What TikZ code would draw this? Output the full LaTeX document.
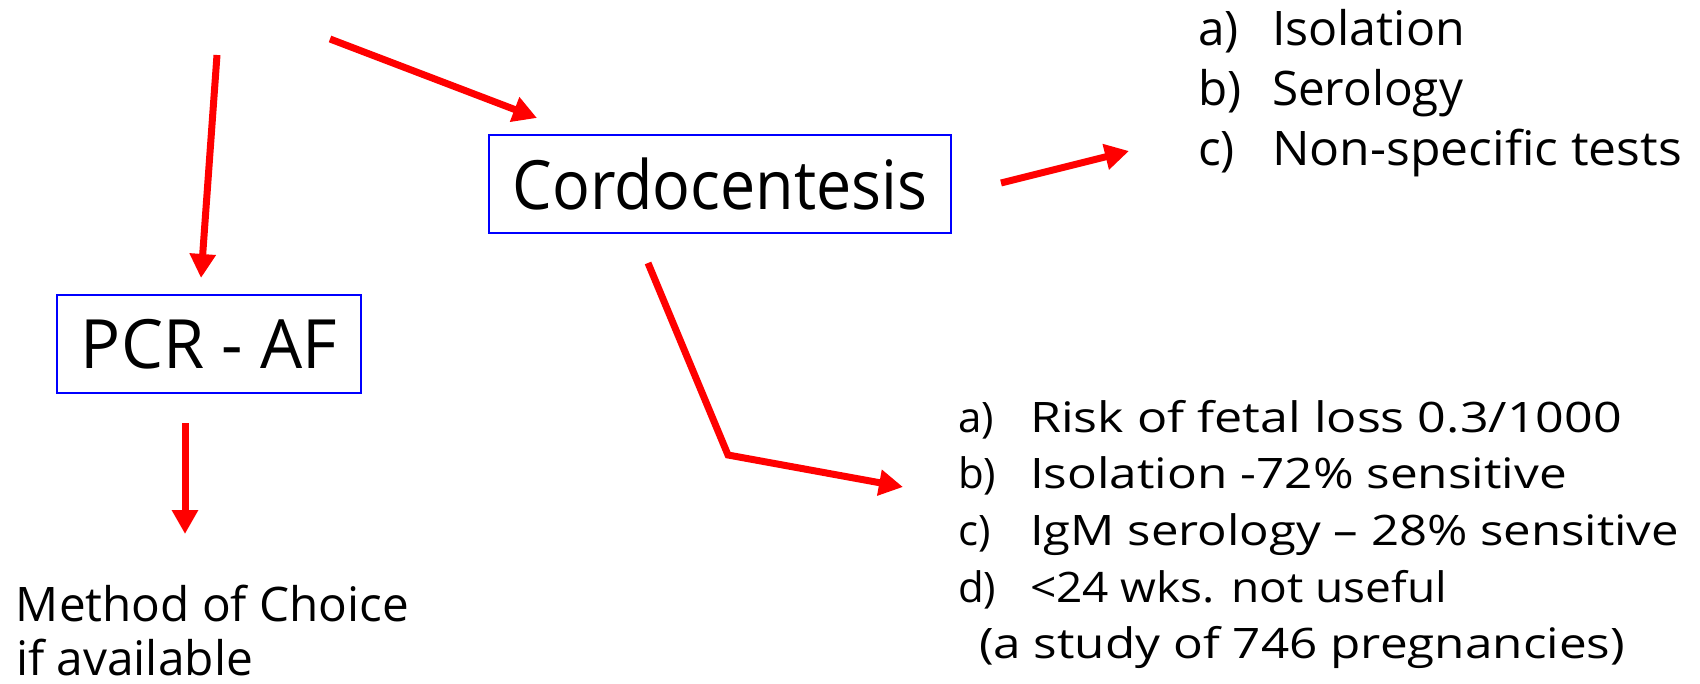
\documentclass[tikz,border=0pt]{standalone}
\usepackage{fontspec}
\setmainfont{Open Sans}
\usetikzlibrary{arrows.meta}
\newcommand\fitw[2]{\resizebox{#1}{\height}{#2}}
\definecolor{arrowred}{RGB}{255,0,0}
\definecolor{boxblue}{RGB}{0,0,255}
\begin{document}
\begin{tikzpicture}[x=1pt,y=-1pt,
  redarrow/.style={draw=arrowred, line width=7pt, line join=miter,
    -{Triangle[length=24pt,width=25pt]}},
  bluebox/.style={draw=boxblue, line width=2.2pt, inner sep=0pt, outer sep=0pt},
  txt/.style={inner sep=0pt, outer sep=0pt, anchor=base west},
  bigfont/.style={font=\fontsize{68}{80}\selectfont},
  topfont/.style={font=\fontsize{47.6}{58}\selectfont},
  botfont/.style={font=\fontsize{42}{52}\selectfont},
]
\useasboundingbox (0,0) rectangle (1700,684);

% boxes
\node[bluebox, bigfont, minimum width=462pt, minimum height=98pt] (cordo) at (720,184) {\fitw{415pt}{Cordocentesis}};
\node[bluebox, bigfont, minimum width=304pt, minimum height=98pt] (pcr) at (209,344) {\fitw{256pt}{PCR - AF}};

% method text
\node[txt, topfont] (meth1) at (16,621) {\fitw{393pt}{Method of Choice}};
\node[txt, topfont] (meth2) at (16,675) {\fitw{237pt}{if available}};

% top right list
\node[txt, topfont] (ta) at (1198,46) {a)};
\node[txt, topfont] (tat) at (1272,46) {\fitw{193pt}{Isolation}};
\node[txt, topfont] (tb) at (1198,106) {b)};
\node[txt, topfont] (tbt) at (1272,106) {\fitw{191pt}{Serology}};
\node[txt, topfont] (tc) at (1198,166) {c)};
\node[txt, topfont] (tct) at (1272,166) {\fitw{410pt}{Non-specific tests}};

% bottom right list
\node[txt, botfont] (ba) at (958,432) {a)};
\node[txt, botfont] (bat) at (1030,432) {\fitw{592pt}{Risk of fetal loss 0.3/1000}};
\node[txt, botfont] (bb) at (958,488) {b)};
\node[txt, botfont] (bbt) at (1030,488) {\fitw{537pt}{Isolation -72\% sensitive}};
\node[txt, botfont] (bc) at (958,545) {c)};
\node[txt, botfont] (bct) at (1030,545) {\fitw{649pt}{IgM serology – 28\% sensitive}};
\node[txt, botfont] (bd) at (958,602) {d)};
\node[txt, botfont] (bdt) at (1030,602) {\fitw{417pt}{<24 wks. not useful}};
\node[txt, botfont] (be) at (979,658) {\fitw{646pt}{(a study of 746 pregnancies)}};

% connector end points
\coordinate (a1s) at (330,39);
\coordinate (a1e) at (537,118);
\coordinate (a2s) at (217,55);
\coordinate (a2e) at (201,278);
\coordinate (a3s) at (185,423);
\coordinate (a3e) at (185,534);
\coordinate (a4s) at (1001,183);
\coordinate (a4e) at (1129,151);
\coordinate (a5s) at (648,263);
\coordinate (a5m) at (728,455);
\coordinate (a5e) at (903,487);

\draw[redarrow] (a1s) -- (a1e);
\draw[redarrow] (a2s) -- (a2e);
\draw[redarrow] (a3s) -- (a3e);
\draw[redarrow] (a4s) -- (a4e);
\draw[redarrow] (a5s) -- (a5m) -- (a5e);
\end{tikzpicture}
\end{document}
